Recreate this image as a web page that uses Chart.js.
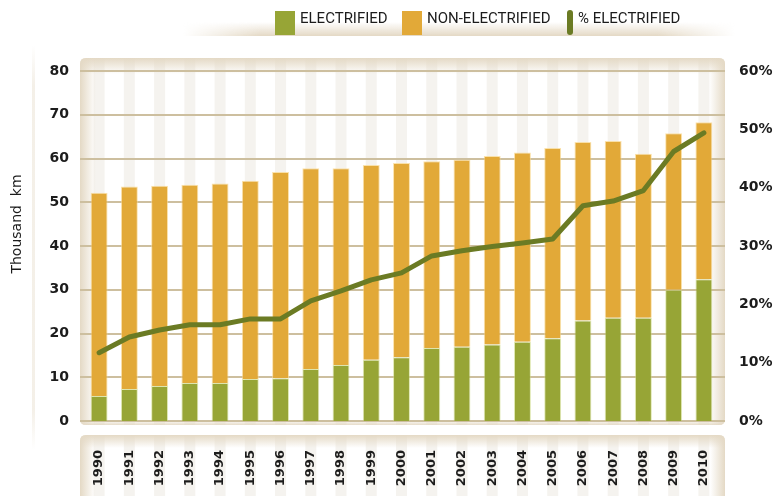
<!DOCTYPE html>
<html>
<head>
<meta charset="utf-8">
<script src="https://cdn.jsdelivr.net/npm/chart.js@4/dist/chart.umd.min.js"></script>
<style>
  html, body { margin: 0; padding: 0; background: #fff; }
  canvas { display: block; }
</style>
</head>
<body>
<canvas id="chart" width="773" height="496"></canvas>
<script>
// Railway network length (thousand km) and share that is electrified
const years = ['1990','1991','1992','1993','1994','1995','1996','1997','1998','1999','2000',
               '2001','2002','2003','2004','2005','2006','2007','2008','2009','2010'];
const electrified    = [5.7, 7.3, 8.0, 8.7, 8.7, 9.6, 9.8, 11.9, 12.8, 14.0, 14.6,
                        16.7, 17.0, 17.5, 18.1, 18.9, 23.0, 23.6, 23.6, 30.0, 32.4];
const nonElectrified = [46.5, 46.3, 45.8, 45.3, 45.6, 45.3, 47.1, 45.9, 45.0, 44.5, 44.4,
                        42.7, 42.7, 43.1, 43.3, 43.5, 40.8, 40.4, 37.5, 35.8, 35.9];
const pctElectrified = [11.7, 14.4, 15.6, 16.5, 16.5, 17.5, 17.5, 20.6, 22.3, 24.2, 25.4,
                        28.3, 29.2, 29.9, 30.5, 31.2, 36.9, 37.7, 39.5, 46.2, 49.4];
const seriesNames = ['ELECTRIFIED', 'NON-ELECTRIFIED', '% ELECTRIFIED'];
const axisTitle = 'Thousand  km';

const GREEN = '#97a536';
const ORANGE = '#e2a938';
const OLIVE = '#6b7b24';
const BEIGE = '228,217,197';

function roundRectPath(ctx, x, y, w, h, r) {
  ctx.beginPath();
  ctx.moveTo(x + r, y);
  ctx.lineTo(x + w - r, y);
  ctx.quadraticCurveTo(x + w, y, x + w, y + r);
  ctx.lineTo(x + w, y + h - r);
  ctx.quadraticCurveTo(x + w, y + h, x + w - r, y + h);
  ctx.lineTo(x + r, y + h);
  ctx.quadraticCurveTo(x, y + h, x, y + h - r);
  ctx.lineTo(x, y + r);
  ctx.quadraticCurveTo(x, y, x + r, y);
  ctx.closePath();
}

// Rounded backing panel with category stripes and soft beige edges
function drawPanel(ctx, xs, x, y, w, h, shade) {
  ctx.save();
  roundRectPath(ctx, x, y, w, h, 6);
  ctx.fillStyle = '#fff';
  ctx.fill();
  ctx.clip();
  ctx.fillStyle = 'rgba(195,185,160,0.17)';
  for (let i = 0; i < xs.ticks.length; i++) {
    const cx = xs.getPixelForTick(i);
    ctx.fillRect(cx - 5.5, y, 11, h);
  }
  let g = ctx.createLinearGradient(0, y, 0, y + shade.top);
  g.addColorStop(0, `rgba(${BEIGE},1)`);
  g.addColorStop(1, `rgba(${BEIGE},0)`);
  ctx.fillStyle = g;
  ctx.fillRect(x, y, w, shade.top);
  g = ctx.createLinearGradient(x, 0, x + shade.side, 0);
  g.addColorStop(0, `rgba(${BEIGE},1)`);
  g.addColorStop(1, `rgba(${BEIGE},0)`);
  ctx.fillStyle = g;
  ctx.fillRect(x, y, shade.side, h);
  g = ctx.createLinearGradient(x + w, 0, x + w - shade.side, 0);
  g.addColorStop(0, `rgba(${BEIGE},1)`);
  g.addColorStop(1, `rgba(${BEIGE},0)`);
  ctx.fillStyle = g;
  ctx.fillRect(x + w - shade.side, y, shade.side, h);
  if (shade.bottom) {
    g = ctx.createLinearGradient(0, y + h, 0, y + h - shade.bottom);
    g.addColorStop(0, `rgba(${BEIGE},0.9)`);
    g.addColorStop(1, `rgba(${BEIGE},0)`);
    ctx.fillStyle = g;
    ctx.fillRect(x, y + h - shade.bottom, w, shade.bottom);
  }
  ctx.restore();
}

const backdrop = {
  id: 'backdrop',
  beforeDraw(chart) {
    const ctx = chart.ctx;
    const xs = chart.scales.x, ys = chart.scales.y;
    ctx.save();
    ctx.fillStyle = '#fff';
    ctx.fillRect(0, 0, chart.width, chart.height);

    // faint vertical rule on the far left
    let g = ctx.createLinearGradient(0, 45, 0, 450);
    g.addColorStop(0, `rgba(${BEIGE},0)`);
    g.addColorStop(0.1, `rgba(${BEIGE},0.4)`);
    g.addColorStop(0.9, `rgba(${BEIGE},0.4)`);
    g.addColorStop(1, `rgba(${BEIGE},0)`);
    ctx.fillStyle = g;
    ctx.fillRect(32, 45, 3, 405);

    // ribbon shadow under the legend
    const bx = 183, by = 22, bw = 552, bh = 14;
    const off = document.createElement('canvas');
    off.width = bw; off.height = bh;
    const o = off.getContext('2d');
    g = o.createLinearGradient(0, 0, 0, bh);
    g.addColorStop(0, `rgba(${BEIGE},0)`);
    g.addColorStop(1, `rgba(${BEIGE},1)`);
    o.fillStyle = g;
    o.fillRect(0, 0, bw, bh);
    o.globalCompositeOperation = 'destination-in';
    g = o.createLinearGradient(0, 0, bw, 0);
    g.addColorStop(0, 'rgba(0,0,0,0)');
    g.addColorStop(0.14, 'rgba(0,0,0,1)');
    g.addColorStop(0.86, 'rgba(0,0,0,1)');
    g.addColorStop(1, 'rgba(0,0,0,0)');
    o.fillStyle = g;
    o.fillRect(0, 0, bw, bh);
    ctx.drawImage(off, bx, by);

    // plot panel and category-label panel
    drawPanel(ctx, xs, 80, 58, 645, 367, { top: 16, side: 16, bottom: 5 });
    drawPanel(ctx, xs, 80, 435, 645, 70, { top: 13, side: 15, bottom: 0 });

    // horizontal grid lines across the full panel
    ctx.strokeStyle = '#cdbf9f';
    ctx.lineWidth = 2;
    ys.ticks.forEach(t => {
      const y = Math.round(ys.getPixelForValue(t.value));
      ctx.beginPath();
      ctx.moveTo(80, y);
      ctx.lineTo(725, y);
      ctx.stroke();
    });
    ctx.restore();
  },
  afterDraw(chart) {
    const ctx = chart.ctx;
    const ds = chart.data.datasets;
    ctx.save();
    // legend
    ctx.font = '15px Roboto, "Liberation Sans", sans-serif';
    ctx.textBaseline = 'alphabetic';
    ctx.textAlign = 'left';
    ctx.fillStyle = ds[0].backgroundColor;
    ctx.fillRect(275, 11, 20, 24);
    ctx.fillStyle = ds[1].backgroundColor;
    ctx.fillRect(402, 11, 20, 24);
    ctx.fillStyle = ds[2].borderColor;
    roundRectPath(ctx, 567, 10, 6, 25, 3);
    ctx.fill();
    ctx.fillStyle = '#1c1c1c';
    ctx.fillText(ds[0].label, 300, 23);
    ctx.fillText(ds[1].label, 427, 23);
    ctx.fillText(ds[2].label, 578, 23);

    // left axis title
    ctx.translate(17.5, 224);
    ctx.rotate(-Math.PI / 2);
    ctx.textAlign = 'center';
    ctx.textBaseline = 'middle';
    ctx.font = '14px "DejaVu Sans", sans-serif';
    ctx.fillText(axisTitle, 0, 0);
    ctx.restore();
  }
};

const tickFont = { family: '"DejaVu Sans", sans-serif', weight: 'bold', size: 14 };

new Chart(document.getElementById('chart'), {
  type: 'bar',
  data: {
    labels: years,
    datasets: [
      {
        label: seriesNames[0],
        data: electrified,
        backgroundColor: GREEN,
        borderColor: 'rgba(200,215,120,0.55)',
        borderWidth: { top: 1, left: 1, right: 1, bottom: 0 },
        borderSkipped: false,
        yAxisID: 'y',
        stack: 'km',
        order: 2,
        categoryPercentage: 1,
        barPercentage: 0.56
      },
      {
        label: seriesNames[1],
        data: nonElectrified,
        backgroundColor: ORANGE,
        borderColor: 'rgba(250,215,140,0.7)',
        borderWidth: { top: 1, left: 1, right: 1, bottom: 0 },
        borderSkipped: false,
        yAxisID: 'y',
        stack: 'km',
        order: 2,
        categoryPercentage: 1,
        barPercentage: 0.56
      },
      {
        type: 'line',
        label: seriesNames[2],
        data: pctElectrified,
        borderColor: OLIVE,
        backgroundColor: OLIVE,
        borderWidth: 5,
        borderCapStyle: 'round',
        borderJoinStyle: 'round',
        pointRadius: 0,
        tension: 0,
        fill: false,
        yAxisID: 'y1',
        order: 0
      }
    ]
  },
  options: {
    responsive: false,
    animation: false,
    layout: { padding: { top: 71, left: 0, right: 0, bottom: 0 } },
    plugins: {
      legend: { display: false },
      tooltip: { enabled: false }
    },
    scales: {
      x: {
        stacked: true,
        offset: true,
        grid: { display: false, drawTicks: false },
        border: { display: false },
        ticks: {
          autoSkip: false,
          minRotation: 90,
          maxRotation: 90,
          padding: 29,
          color: '#1c1c1c',
          font: { family: '"DejaVu Sans", sans-serif', weight: 'bold', size: 13 }
        },
        afterFit(scale) { scale.height = 75; }
      },
      y: {
        stacked: true,
        position: 'left',
        min: 0,
        max: 80,
        grid: { display: false, drawTicks: false },
        border: { display: false },
        ticks: { stepSize: 10, padding: 15, color: '#1c1c1c', font: tickFont },
        afterFit(scale) { scale.width = 84; }
      },
      y1: {
        position: 'right',
        min: 0,
        max: 60,
        grid: { display: false, drawTicks: false },
        border: { display: false },
        ticks: {
          stepSize: 10,
          padding: 20,
          color: '#1c1c1c',
          font: tickFont,
          callback: v => v + '%'
        },
        afterFit(scale) { scale.width = 54; }
      }
    }
  },
  plugins: [backdrop]
});
</script>
</body>
</html>
